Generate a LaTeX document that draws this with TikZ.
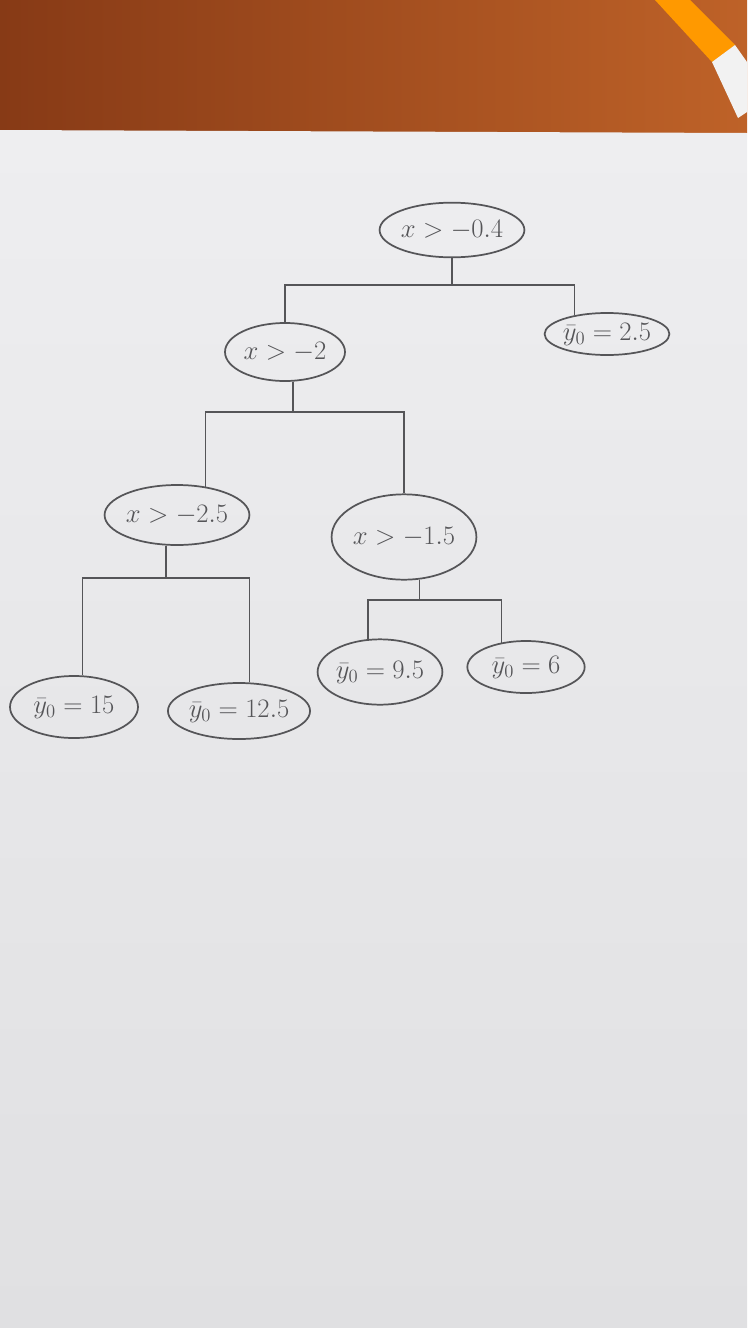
\documentclass[tikz,border=0pt]{standalone}
\usepackage{fix-cm}
\usetikzlibrary{shapes.geometric,calc}
\definecolor{pencil}{RGB}{85,85,88}
\definecolor{woodL}{RGB}{135,58,22}
\definecolor{woodR}{RGB}{190,98,40}
\definecolor{paperT}{RGB}{238,238,240}
\definecolor{paperB}{RGB}{224,224,226}
\tikzset{
  oval/.style={ellipse, draw=pencil, line width=1.3pt, inner sep=0pt,
    text=pencil, font=\fontsize{20}{24}\selectfont},
  wire/.style={draw=pencil, line width=1.3pt}
}
\begin{document}
\begin{tikzpicture}[x=0.75pt,y=-0.75pt]
\useasboundingbox (0,0) rectangle (747,1328);
% background: wood table and paper sheet
\shade[left color=woodL, right color=woodR] (0,0) rectangle (747,132);
\shade[top color=paperT, bottom color=paperB] (0,130) -- (747,133) -- (747,1328) -- (0,1328) -- cycle;
% pencil in the corner
\fill[orange!80!yellow] (655,0) -- (690,0) -- (735,45) -- (712,62) -- cycle;
\fill[white!90!gray] (712,62) -- (735,45) -- (747,62) -- (747,112) -- (738,118) -- cycle;

% nodes
\node[oval, minimum width=82pt, minimum height=41pt] (root) at (452,230) {$x > -0.4$};
\node[oval, minimum width=86pt, minimum height=31.5pt] (r1) at (607,334) {$\bar{y}_0 = 2.5$};
\node[oval, minimum width=90pt, minimum height=43.5pt] (n2) at (285,352) {$x > -2$};
\node[oval, minimum width=94pt, minimum height=45pt] (n3) at (177,515) {$x > -2.5$};
\node[oval, minimum width=99pt, minimum height=64pt] (n4) at (404,537) {$x > -1.5$};
\node[oval, minimum width=79pt, minimum height=49pt] (l95) at (380,672) {$\bar{y}_0 = 9.5$};
\node[oval, minimum width=88pt, minimum height=39pt] (l6) at (526,667) {$\bar{y}_0 = 6$};
\node[oval, minimum width=96pt, minimum height=46.5pt] (l15) at (74,707) {$\bar{y}_0 = 15$};
\node[oval, minimum width=103.5pt, minimum height=42pt] (l125) at (239,711) {$\bar{y}_0 = 12.5$};

% junction heights
\coordinate (j1) at (0,285);
\coordinate (j2) at (0,412);
\coordinate (j3) at (0,578);
\coordinate (j4) at (0,600);

% connectors
\draw[wire] (root.south) -- (root.south |- j1);
\draw[wire] (n2.north) |- (r1.150 |- j1) -- (r1.150);

\draw[wire] (n2.-75) -- (n2.-75 |- j2);
\draw[wire] (n3.45) |- (n4.north |- j2) -- (n4.north);

\draw[wire] (n3.-110) -- (n3.-110 |- j3);
\draw[wire] (l15.75) |- (l125.70 |- j3) -- (l125.70);

\draw[wire] (n4.-70) -- (n4.-70 |- j4);
\draw[wire] (l95.110) |- (l6.135 |- j4) -- (l6.135);
\end{tikzpicture}
\end{document}
